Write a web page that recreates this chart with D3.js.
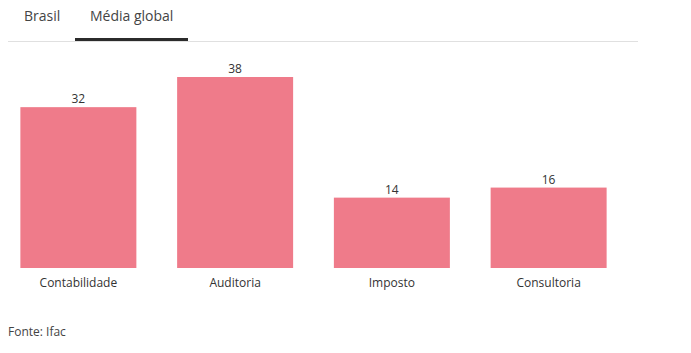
<!DOCTYPE html>
<html>
<head>
<meta charset="utf-8">
<script src="https://cdn.jsdelivr.net/npm/d3@7"></script>
<style>
  body { margin: 0; background: #fff; }
  text { font-family: "Open Sans", "Noto Sans", sans-serif; }
</style>
</head>
<body>
<div class="plot"></div>
<script>
var categories = ['Contabilidade', 'Auditoria', 'Imposto', 'Consultoria'];
var values = [32, 38, 14, 16];
var tabs = ['Brasil', 'Média global'];
var source = 'Fonte: Ifac';

var W = 691, H = 353;
var chartW = 627, baseY = 268;

var svg = d3.select('.plot').append('svg')
    .attr('width', W)
    .attr('height', H);

// tabs
var tabX = [24, 90];
svg.selectAll('.tab')
    .data(tabs)
    .enter()
    .append('text')
    .attr('class', 'tab')
    .attr('x', function(d, i){ return tabX[i]; })
    .attr('y', 21)
    .style('font-size', '14px')
    .style('fill', '#444')
    .text(function(d){ return d; });

svg.append('rect')
    .attr('x', 8).attr('y', 41)
    .attr('width', 630).attr('height', 1)
    .style('fill', '#e0e0e0');
svg.append('rect')
    .attr('x', 75).attr('y', 38)
    .attr('width', 113).attr('height', 3)
    .style('fill', '#2b2b2b');

var x = d3.scaleBand()
    .domain(categories)
    .range([0, chartW])
    .paddingInner(0.26)
    .paddingOuter(0.13);

var y = d3.scaleLinear()
    .domain([0, 38])
    .range([baseY, 77]);

var g = svg.append('g');

var data = categories.map(function(c, i){ return {cat: c, val: values[i]}; });

g.selectAll('rect.bar')
    .data(data)
    .enter()
    .append('rect')
    .attr('class', 'bar')
    .attr('x', function(d){ return x(d.cat); })
    .attr('y', function(d){ return y(d.val); })
    .attr('width', x.bandwidth())
    .attr('height', function(d){ return baseY - y(d.val); })
    .style('fill', '#ef7b8a');

g.selectAll('text.val')
    .data(data)
    .enter()
    .append('text')
    .attr('class', 'val')
    .attr('x', function(d){ return x(d.cat) + x.bandwidth() / 2; })
    .attr('y', function(d){ return y(d.val) - 4; })
    .attr('text-anchor', 'middle')
    .style('font-size', '12px')
    .style('fill', '#333')
    .text(function(d){ return d.val; });

var axis = d3.axisBottom(x).tickSize(0).tickPadding(10);
g.append('g')
    .attr('transform', 'translate(0,' + baseY + ')')
    .call(axis)
    .call(function(a){ a.select('.domain').remove(); })
    .selectAll('text')
    .style('font-size', '12px')
    .style('font-family', '"Open Sans", "Noto Sans", sans-serif')
    .style('fill', '#333');

svg.append('text')
    .attr('x', 8)
    .attr('y', 336)
    .style('font-size', '12px')
    .style('fill', '#444')
    .text(source);
</script>
</body>
</html>
